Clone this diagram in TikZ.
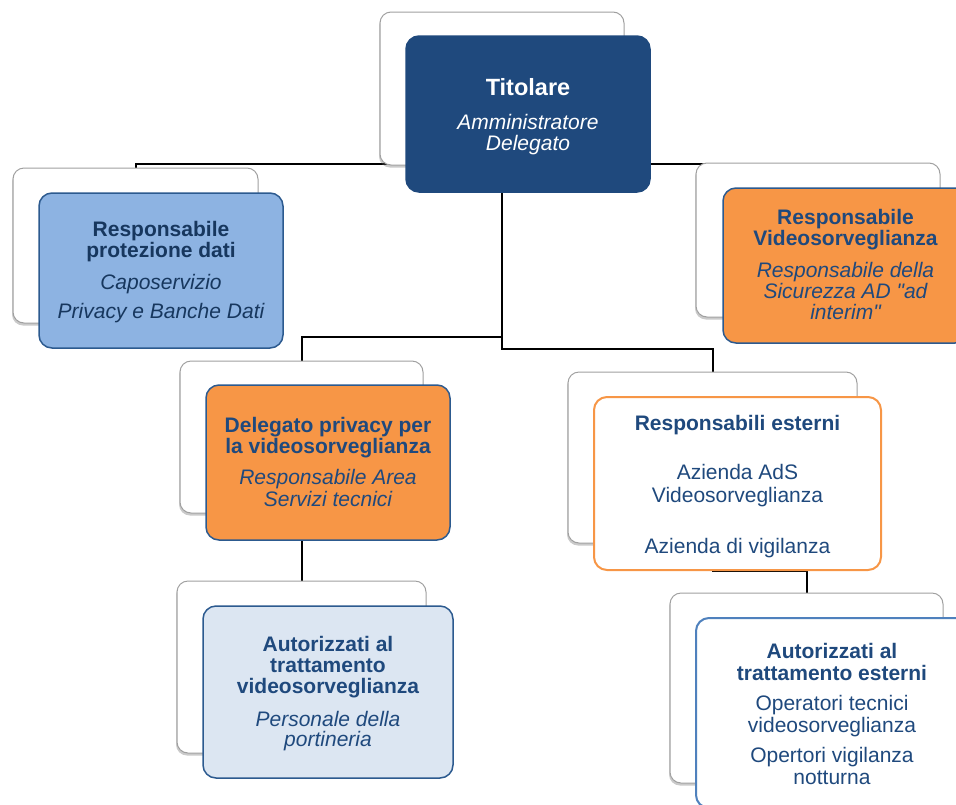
\documentclass[tikz,border=0pt]{standalone}
\usepackage{fontspec}
\setmainfont{Liberation Sans}
\usetikzlibrary{shadows}
\definecolor{navy}{HTML}{1F497D}
\definecolor{navydk}{HTML}{17375E}
\definecolor{bordblue}{HTML}{2C5A8F}
\definecolor{lightblue}{HTML}{8DB3E2}
\definecolor{paleblue}{HTML}{DCE6F2}
\definecolor{orangeF}{HTML}{F79646}
\definecolor{midblue}{HTML}{4F81BD}
\definecolor{grayB}{HTML}{A0A0A0}
\newcommand\txtblock[1]{\vtop{\baselineskip=21pt\lineskiplimit=-100pt\lineskip=0pt\halign{\hfil##\hfil\cr#1\crcr}}}
\newcommand\gp[1]{\noalign{\vskip#1pt}}
\newcommand\dq{\XeTeXglyph\XeTeXcharglyph34\relax}
\pgfdeclarelayer{bg}
\pgfsetlayers{bg,main}
\tikzset{
  backbox/.style={draw=grayB, line width=1pt, fill=white, rounded corners=11pt, inner sep=0pt,
    drop shadow={shadow xshift=-1pt, shadow yshift=-2.5pt, opacity=0.35, fill=black!60}},
  frontbox/.style={line width=1.5pt, rounded corners=13pt, inner sep=0pt},
  conn/.style={draw=black, line width=2pt},
  txt/.style={anchor=base, inner sep=0pt, font=\fontsize{21}{21}\selectfont, text=navy},
}
\begin{document}
\begin{tikzpicture}[x=1pt,y=-1pt]
\useasboundingbox (0,0) rectangle (956,804);
\clip (0,0) rectangle (956,804);
\coordinate (jL) at (0,337);
\coordinate (jR) at (0,349);
\coordinate (jE) at (0,571);

% Titolare
\node[backbox, minimum width=244pt, minimum height=153pt] (tB) at (502,88.5) {};
\node[frontbox, fill=navy, draw=navy, minimum width=244pt, minimum height=156pt] (tF) at (528,114) {};
\node[txt, text=white] (tT) at (528,95) {\txtblock{\fontsize{23.5}{21}\selectfont\bfseries Titolare\cr\gp{13}\itshape Amministratore\cr\itshape Delegato}};

% Responsabile protezione dati
\node[backbox, minimum width=245pt, minimum height=155pt] (rpdB) at (135.5,245.5) {};
\node[frontbox, fill=lightblue, draw=bordblue, minimum width=244pt, minimum height=155pt] (rpdF) at (161,270.5) {};
\node[txt, text=navydk] (rpdT) at (161,236) {\txtblock{\bfseries Responsabile\cr\bfseries protezione dati\cr\gp{11}\itshape Caposervizio\cr\gp{8}\itshape Privacy e Banche Dati}};

% Responsabile Videosorveglianza
\node[backbox, minimum width=244pt, minimum height=154pt] (rvB) at (818,240) {};
\node[frontbox, fill=orangeF, draw=bordblue, minimum width=245pt, minimum height=155pt] (rvF) at (845.5,265.5) {};
\node[txt] (rvT) at (845.5,224) {\txtblock{\bfseries Responsabile\cr\bfseries Videosorveglianza\cr\gp{11}\itshape Responsabile della\cr\itshape Sicurezza AD \dq ad\cr\itshape interim\dq}};

% Delegato privacy
\node[backbox, minimum width=243pt, minimum height=152pt] (delB) at (301.5,437) {};
\node[frontbox, fill=orangeF, draw=bordblue, minimum width=244pt, minimum height=155pt] (delF) at (328,462.5) {};
\node[txt] (delT) at (328,432) {\txtblock{\bfseries Delegato privacy per\cr\bfseries la videosorveglianza\cr\gp{10}\itshape Responsabile Area\cr\gp{1}\itshape Servizi tecnici}};

% Responsabili esterni
\node[backbox, minimum width=289pt, minimum height=171pt] (reB) at (712.5,457.5) {};
\node[frontbox, fill=white, draw=orangeF, line width=2pt, minimum width=287pt, minimum height=173pt] (reF) at (737.5,483.5) {};
\node[txt] (reT) at (737.5,430) {\txtblock{\bfseries Responsabili esterni\cr\gp{28}Azienda AdS\cr\gp{2}Videosorveglianza\cr\gp{30}Azienda di vigilanza}};

% Autorizzati al trattamento videosorveglianza
\node[backbox, minimum width=249pt, minimum height=172pt] (autB) at (301.5,667) {};
\node[frontbox, fill=paleblue, draw=bordblue, minimum width=250pt, minimum height=172pt] (autF) at (328,692) {};
\node[txt] (autT) at (328,651) {\txtblock{\bfseries Autorizzati al\cr\bfseries trattamento\cr\bfseries videosorveglianza\cr\gp{12}\itshape Personale della\cr\gp{-1}\itshape portineria}};

% Autorizzati al trattamento esterni
\node[backbox, minimum width=273pt, minimum height=190pt] (ateB) at (806.5,688) {};
\node[frontbox, fill=white, draw=midblue, line width=2pt, minimum width=272pt, minimum height=190pt] (ateF) at (832,713) {};
\node[txt] (ateT) at (832,658) {\txtblock{\bfseries Autorizzati al\cr\gp{1}\bfseries trattamento esterni\cr\gp{9}Operatori tecnici\cr\gp{1}videosorveglianza\cr\gp{9}Opertori vigilanza\cr\gp{1}notturna}};

\begin{pgfonlayer}{bg}
\draw[conn] ([yshift=2pt]tB.south) -| (rpdB.north);
\draw[conn] ([yshift=2pt]tB.south) -| (rvB.north);
\draw[conn] (tB.south) -- (tB.south |- jL) -| (delB.north);
\draw[conn] (tB.south) -- (tB.south |- jR) -| (reB.north);
\draw[conn] (delB.south) -- (autB.north);
\draw[conn] (reB.south) -- (reB.south |- jE) -| (ateB.north);
\end{pgfonlayer}
\end{tikzpicture}
\end{document}
